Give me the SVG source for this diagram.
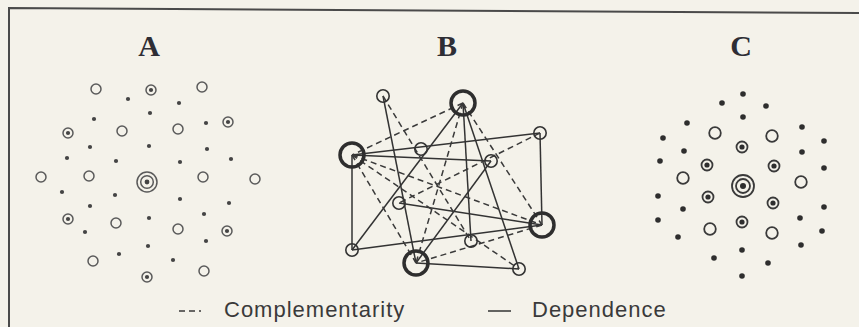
<svg xmlns="http://www.w3.org/2000/svg" width="859" height="327" viewBox="0 0 859 327">
<style>
.bg{fill:#f4f2ea}
.frame{fill:none;stroke:#4a4a4a;stroke-width:2}
.title{font-family:"Liberation Serif",serif;font-weight:bold;font-size:30px;fill:#2e2e35;text-anchor:middle}
.legend{font-family:"Liberation Sans",Arial,sans-serif;font-size:22px;fill:#3a3a3a;letter-spacing:1px}
.a-open{fill:none;stroke:#5a5a5a;stroke-width:1.5}
.a-dot{fill:#444}
.c-open{fill:none;stroke:#3a3a3a;stroke-width:1.8}
.c-dot{fill:#2e2e2e}
.sm{fill:none;stroke:#333;stroke-width:1.6}
.bg-node{fill:none;stroke:#2e2e2e;stroke-width:3.5}
.solid{stroke:#333;stroke-width:1.5;fill:none}
.dash{stroke:#3a3a3a;stroke-width:1.5;fill:none;stroke-dasharray:6,4}
</style>
<defs>
<g id="aopen"><circle r="5" class="a-open"/></g>
<g id="adot"><circle r="2.1" class="a-dot"/></g>
<g id="aring"><circle r="5" class="a-open"/><circle r="2.1" class="a-dot"/></g>
<g id="copen"><circle r="5.8" class="c-open"/></g>
<g id="cdot"><circle r="2.8" class="c-dot"/></g>
<g id="cring"><circle r="5.5" class="c-open"/><circle r="2.6" class="c-dot"/></g>
</defs>
<rect class="bg" x="0" y="0" width="859" height="327"/>
<path class="frame" d="M9,327 L9,8 L859,13"/>

<g id="titles">
<text class="title" x="149" y="56">A</text>
<text class="title" x="447" y="56">B</text>
<text class="title" x="741" y="56">C</text>
</g>

<g id="panelA">
<use href="#aopen" x="96" y="89"/><use href="#aopen" x="202" y="87"/><use href="#aopen" x="122" y="131"/><use href="#aopen" x="178" y="129"/>
<use href="#aopen" x="41" y="177"/><use href="#aopen" x="89" y="176"/><use href="#aopen" x="203" y="177"/><use href="#aopen" x="255" y="179"/>
<use href="#aopen" x="116" y="223"/><use href="#aopen" x="178" y="229"/><use href="#aopen" x="93" y="261"/><use href="#aopen" x="204" y="271"/>
<use href="#aring" x="151" y="90"/><use href="#aring" x="228" y="122"/><use href="#aring" x="68" y="133"/><use href="#aring" x="68" y="219"/><use href="#aring" x="227" y="231"/><use href="#aring" x="147" y="277"/>
<use href="#adot" x="128" y="99"/><use href="#adot" x="179" y="103"/><use href="#adot" x="150" y="113"/><use href="#adot" x="94" y="119"/><use href="#adot" x="206" y="123"/>
<use href="#adot" x="90" y="147"/><use href="#adot" x="149" y="146"/><use href="#adot" x="207" y="149"/><use href="#adot" x="67" y="158"/><use href="#adot" x="116" y="161"/>
<use href="#adot" x="180" y="162"/><use href="#adot" x="231" y="159"/><use href="#adot" x="62" y="192"/><use href="#adot" x="115" y="195"/><use href="#adot" x="180" y="199"/>
<use href="#adot" x="229" y="203"/><use href="#adot" x="90" y="206"/><use href="#adot" x="149" y="218"/><use href="#adot" x="204" y="214"/><use href="#adot" x="85" y="232"/>
<use href="#adot" x="148" y="246"/><use href="#adot" x="206" y="241"/><use href="#adot" x="119" y="254"/><use href="#adot" x="173" y="260"/>
<g id="a-center"><circle cx="147" cy="182" r="10" class="a-open"/><circle cx="147" cy="182" r="6.3" class="a-open"/><circle cx="147" cy="182" r="2.4" class="a-dot"/></g>
</g>

<g id="panelB">
<g id="connectors">
<line class="solid" x1="352" y1="155" x2="540" y2="133"/>
<line class="solid" x1="352" y1="155" x2="491" y2="161"/>
<line class="solid" x1="352" y1="155" x2="352" y2="250"/>
<line class="solid" x1="383" y1="96" x2="416" y2="263"/>
<line class="solid" x1="463" y1="103" x2="352" y2="250"/>
<line class="solid" x1="463" y1="103" x2="471" y2="241"/>
<line class="solid" x1="463" y1="103" x2="519" y2="269"/>
<line class="solid" x1="540" y1="133" x2="542" y2="225"/>
<line class="solid" x1="399" y1="203" x2="542" y2="225"/>
<line class="solid" x1="352" y1="250" x2="542" y2="225"/>
<line class="solid" x1="416" y1="263" x2="519" y2="269"/>
<line class="solid" x1="491" y1="161" x2="416" y2="263"/>
<line class="dash" x1="463" y1="103" x2="352" y2="155"/>
<line class="dash" x1="383" y1="96" x2="471" y2="241"/>
<line class="dash" x1="540" y1="133" x2="399" y2="203"/>
<line class="dash" x1="352" y1="155" x2="542" y2="225"/>
<line class="dash" x1="352" y1="155" x2="416" y2="263"/>
<line class="dash" x1="463" y1="103" x2="416" y2="263"/>
<line class="dash" x1="463" y1="103" x2="542" y2="225"/>
<line class="dash" x1="542" y1="225" x2="416" y2="263"/>
<line class="dash" x1="352" y1="155" x2="519" y2="269"/>
</g>
<g id="b-n1"><circle class="sm" cx="383" cy="96" r="6.2"/></g>
<g id="b-N2"><circle class="bg-node" cx="463" cy="103" r="12"/></g>
<g id="b-n3"><circle class="sm" cx="540" cy="133" r="6.2"/></g>
<g id="b-N4"><circle class="bg-node" cx="352" cy="155" r="12"/></g>
<g id="b-n5"><circle class="sm" cx="421" cy="149" r="6.2"/></g>
<g id="b-n6"><circle class="sm" cx="491" cy="161" r="6.2"/></g>
<g id="b-n7"><circle class="sm" cx="399" cy="203" r="6.2"/></g>
<g id="b-N8"><circle class="bg-node" cx="542" cy="225" r="12"/></g>
<g id="b-n9"><circle class="sm" cx="352" cy="250" r="6.2"/></g>
<g id="b-n10"><circle class="sm" cx="471" cy="241" r="6.2"/></g>
<g id="b-N11"><circle class="bg-node" cx="416" cy="263" r="12"/></g>
<g id="b-n12"><circle class="sm" cx="519" cy="269" r="6.2"/></g>
</g>

<g id="panelC">
<use href="#cdot" x="743" y="94"/><use href="#cdot" x="722" y="103"/><use href="#cdot" x="766" y="106"/><use href="#cdot" x="743" y="117"/>
<use href="#cdot" x="687" y="123"/><use href="#cdot" x="802" y="127"/><use href="#cdot" x="663" y="138"/><use href="#cdot" x="824" y="141"/>
<use href="#cdot" x="684" y="151"/><use href="#cdot" x="802" y="152"/><use href="#cdot" x="660" y="161"/><use href="#cdot" x="824" y="168"/>
<use href="#cdot" x="658" y="196"/><use href="#cdot" x="824" y="207"/><use href="#cdot" x="683" y="209"/><use href="#cdot" x="800" y="218"/>
<use href="#cdot" x="658" y="220"/><use href="#cdot" x="822" y="231"/><use href="#cdot" x="678" y="237"/><use href="#cdot" x="801" y="245"/>
<use href="#cdot" x="742" y="250"/><use href="#cdot" x="714" y="258"/><use href="#cdot" x="768" y="263"/><use href="#cdot" x="742" y="276"/>
<use href="#copen" x="715" y="133"/><use href="#copen" x="772" y="136"/><use href="#copen" x="683" y="178"/><use href="#copen" x="801" y="182"/><use href="#copen" x="710" y="229"/><use href="#copen" x="772" y="233"/>
<use href="#cring" x="742" y="147"/><use href="#cring" x="707" y="165"/><use href="#cring" x="774" y="166"/><use href="#cring" x="708" y="197"/><use href="#cring" x="773" y="203"/><use href="#cring" x="742" y="222"/>
<g id="c-center"><circle cx="743" cy="186" r="11" class="c-open"/><circle cx="743" cy="186" r="7" class="c-open"/><circle cx="743" cy="186" r="3" class="c-dot"/></g>
</g>

<g id="legend">
<line class="dash" x1="179" y1="311" x2="201" y2="311" stroke-dasharray="5,3"/>
<text class="legend" x="224" y="317">Complementarity</text>
<line class="solid" x1="488" y1="311" x2="511" y2="311" stroke-width="1.8"/>
<text class="legend" x="532" y="317">Dependence</text>
</g>
</svg>
